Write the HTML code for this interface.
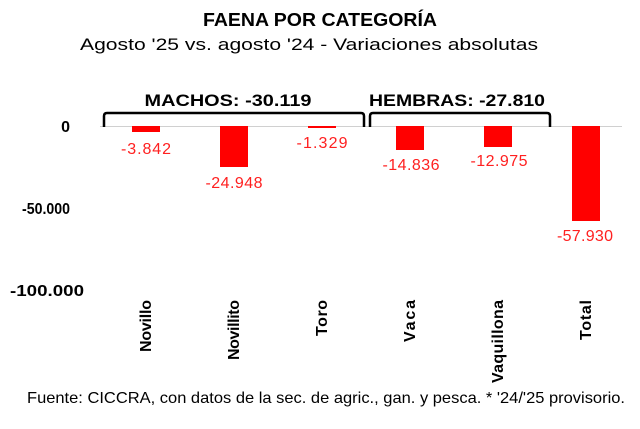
<!DOCTYPE html>
<html><head><style>body{margin:0;background:#fff}</style></head><body>
<svg width="640" height="424" xmlns="http://www.w3.org/2000/svg" font-family="Liberation Sans, Arial, sans-serif">
<rect width="640" height="424" fill="#fff"/>
<text x="320" y="26" text-anchor="middle" font-size="18" font-weight="bold" textLength="234" lengthAdjust="spacingAndGlyphs">FAENA POR CATEGORÍA</text>
<text x="309" y="50" text-anchor="middle" font-size="17" textLength="458" lengthAdjust="spacingAndGlyphs">Agosto '25 vs. agosto '24 - Variaciones absolutas</text>
<line x1="100" y1="126.5" x2="622" y2="126.5" stroke="#d0d0d0" stroke-width="1"/>
<g fill="#ff0000">
<rect x="132" y="126" width="28" height="6"/>
<rect x="220" y="126" width="28" height="41"/>
<rect x="308" y="126" width="28" height="2"/>
<rect x="396" y="126" width="28" height="24"/>
<rect x="484" y="126" width="28" height="21"/>
<rect x="572" y="126" width="28" height="95"/>
</g>
<g fill="#ff2020" font-size="16" text-anchor="middle" lengthAdjust="spacingAndGlyphs">
<text x="146" y="154" textLength="50">-3.842</text>
<text x="234" y="188" textLength="57">-24.948</text>
<text x="322" y="148" textLength="51">-1.329</text>
<text x="411" y="170" textLength="57">-14.836</text>
<text x="499" y="166" textLength="57">-12.975</text>
<text x="585" y="241" textLength="56">-57.930</text>
</g>
<g font-size="16" font-weight="bold" text-anchor="end">
<text x="70" y="132">0</text>
<text x="70" y="214" textLength="48" lengthAdjust="spacingAndGlyphs">-50.000</text>
<text x="84" y="296" textLength="74" lengthAdjust="spacingAndGlyphs">-100.000</text>
</g>
<g fill="none" stroke="#000" stroke-width="2.5">
<path d="M104 127 V116 Q104 113 107 113 H361 Q364 113 364 116 V127"/>
<path d="M370 127 V116 Q370 113 373 113 H547 Q550 113 550 116 V127"/>
</g>
<text x="228" y="106" text-anchor="middle" font-size="17" font-weight="bold" textLength="167" lengthAdjust="spacingAndGlyphs">MACHOS: -30.119</text>
<text x="457" y="106" text-anchor="middle" font-size="17" font-weight="bold" textLength="176" lengthAdjust="spacingAndGlyphs">HEMBRAS: -27.810</text>
<g font-size="16" font-weight="bold" text-anchor="end" lengthAdjust="spacingAndGlyphs">
<text transform="translate(151,300) rotate(-90)" textLength="52">Novillo</text>
<text transform="translate(239,300) rotate(-90)" textLength="60">Novillito</text>
<text transform="translate(327,300) rotate(-90)" textLength="36">Toro</text>
<text transform="translate(415,300) rotate(-90)" textLength="42">Vaca</text>
<text transform="translate(503,300) rotate(-90)" textLength="83">Vaquillona</text>
<text transform="translate(591,300) rotate(-90)" textLength="40">Total</text>
</g>
<text x="326" y="403" text-anchor="middle" font-size="16" textLength="598" lengthAdjust="spacingAndGlyphs">Fuente: CICCRA, con datos de la sec. de agric., gan. y pesca. * '24/'25 provisorio.</text>
</svg>
</body></html>
